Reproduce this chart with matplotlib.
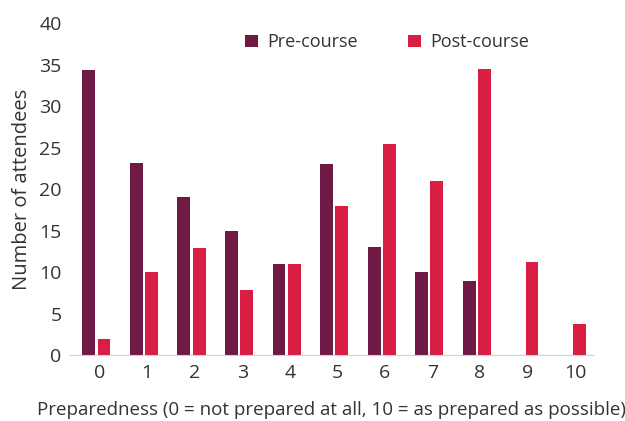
import numpy as np
import matplotlib
matplotlib.use('Agg')
from matplotlib import pyplot as plt

# data
scores = np.arange(11)
pre_course = [34.4, 23.1, 19.1, 15.0, 11.0, 23.0, 13.0, 10.0, 9.0, 0, 0]
post_course = [2.0, 10.0, 12.9, 7.9, 11.0, 18.0, 25.4, 21.0, 34.5, 11.2, 3.8]

pre_color = '#6E1A45'
post_color = '#D91E43'
text_color = '#333333'

plt.rcParams['font.family'] = ['Open Sans', 'DejaVu Sans']

fig = plt.figure(figsize=(6.25, 4.21), dpi=100)
ax = fig.add_axes([0.112, 0.156, 0.837, 0.789])

w = 0.27
ax.bar(scores - 0.225, pre_course, width=w, color=pre_color, label='Pre-course')
ax.bar(scores + 0.095, post_course, width=w, color=post_color, label='Post-course')

ax.set_xlim(-0.62, 10.38)
ax.set_ylim(0, 40)
ax.set_xticks(scores)
ax.set_yticks(np.arange(0, 41, 5))
ax.tick_params(length=0, labelsize=14, colors=text_color)
ax.tick_params(axis='x', pad=6)
ax.tick_params(axis='y', pad=6)

for s in ['top', 'right', 'left']:
    ax.spines[s].set_visible(False)
ax.spines['bottom'].set_color('#D0D0D0')

ax.set_ylabel('Number of attendees', fontsize=14.5, color=text_color, labelpad=5)
ax.set_xlabel('Preparedness (0 = not prepared at all, 10 = as prepared as possible)',
              fontsize=13.5, color=text_color, labelpad=14)

ax.legend(loc='upper center', bbox_to_anchor=(0.606, 1.018), ncol=2, frameon=False,
          fontsize=13, handlelength=0.7, handleheight=0.7, columnspacing=2.8,
          handletextpad=0.5, labelcolor=text_color)

plt.savefig('out.png', dpi=100)
